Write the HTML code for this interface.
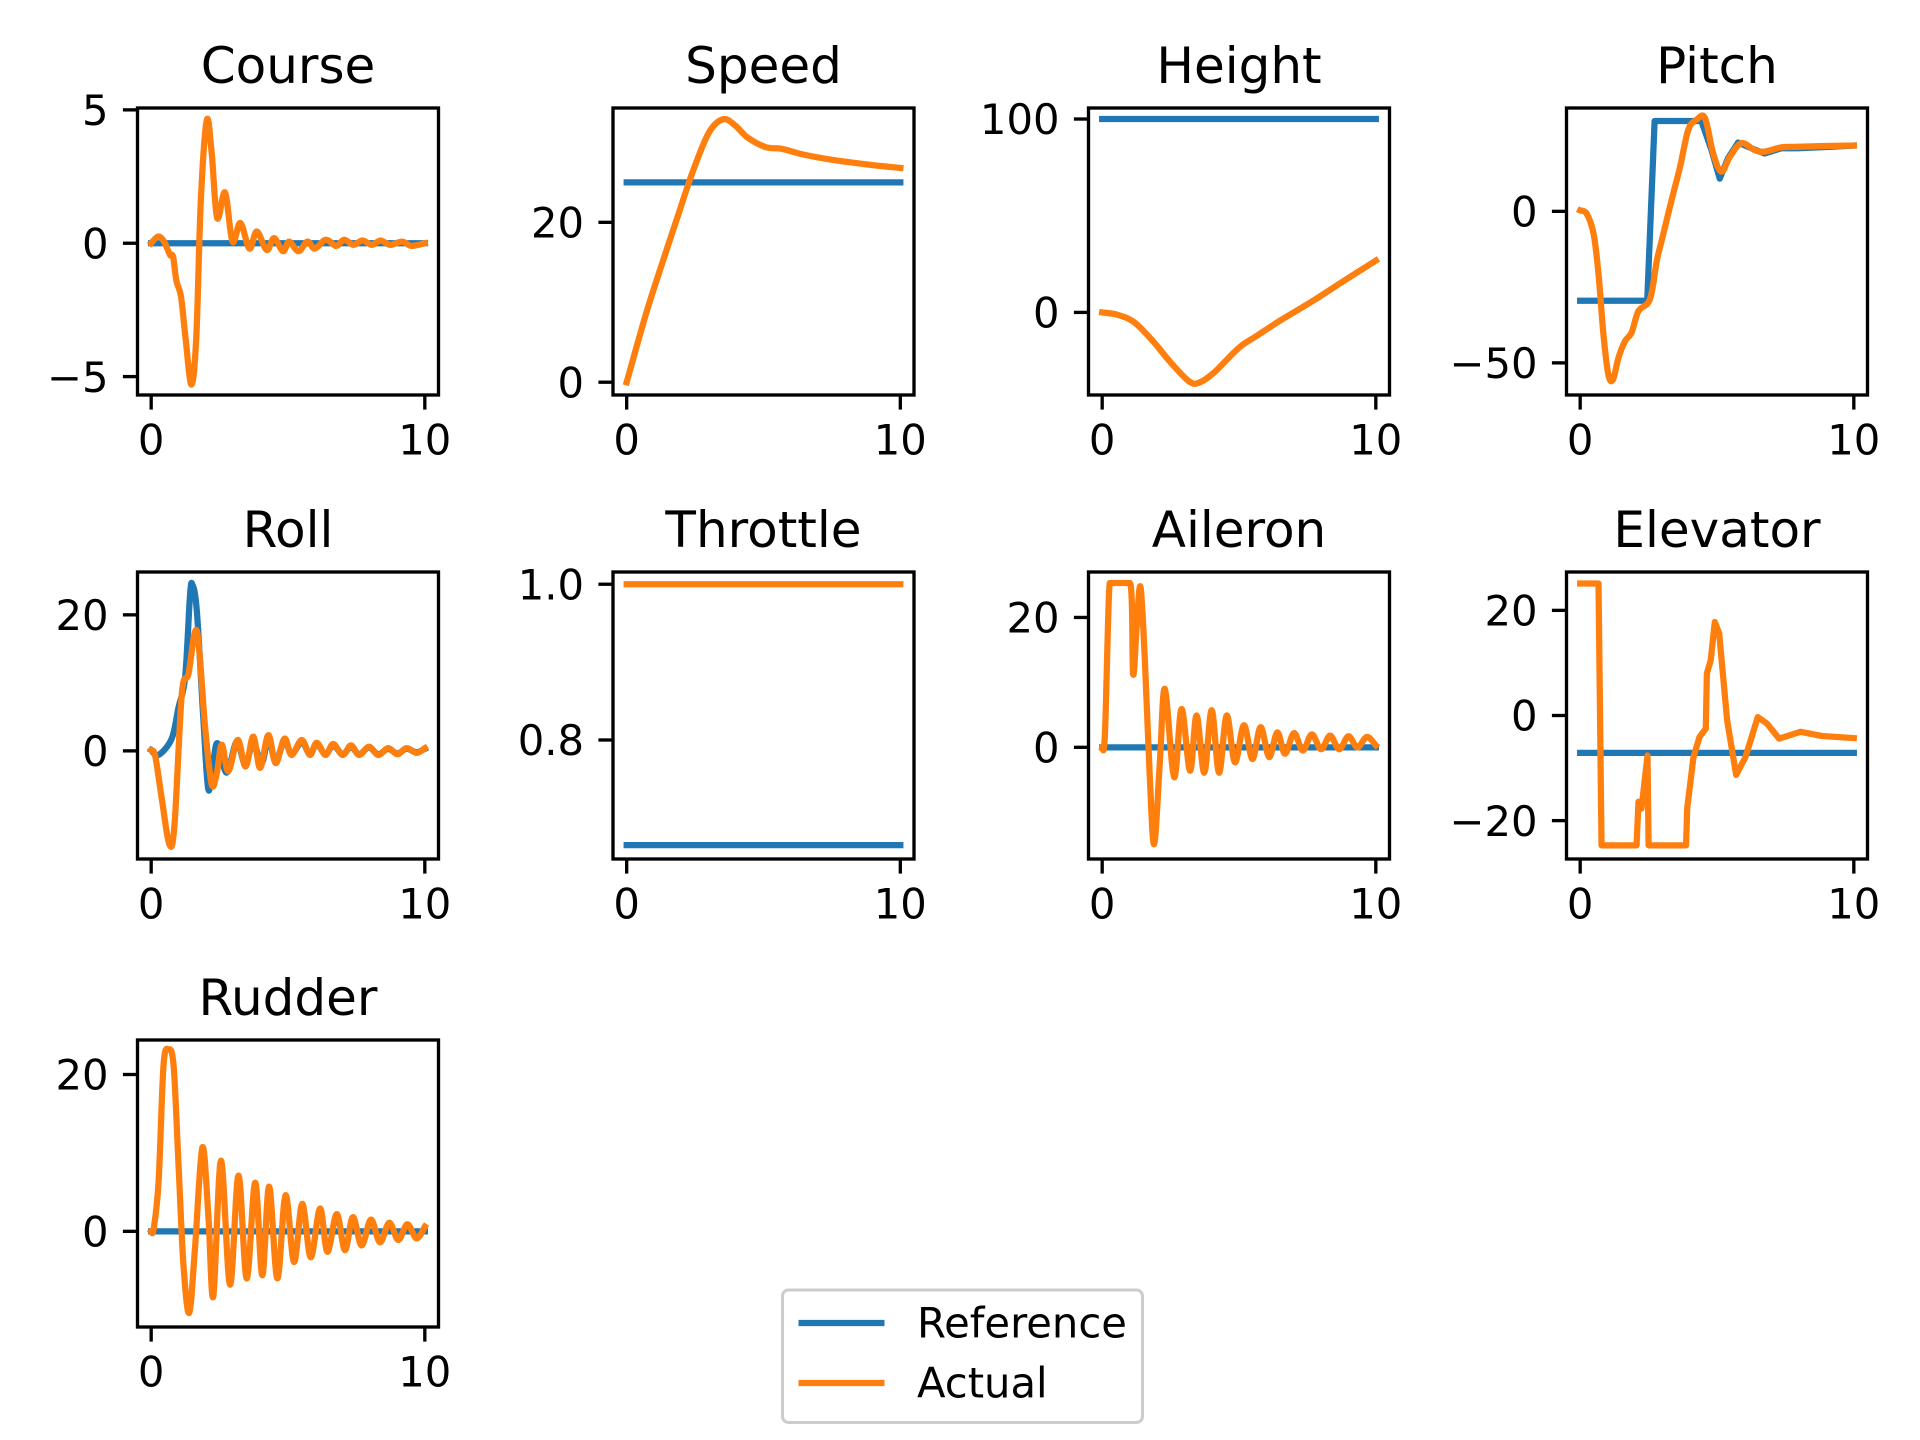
<!DOCTYPE html>
<html><head><meta charset="utf-8">
<style>
html,body{margin:0;padding:0;background:#fff;}
svg{display:block;font-family:"DejaVu Sans","Liberation Sans",sans-serif;}
</style></head>
<body>
<svg id="fig" width="1920" height="1440" viewBox="0 0 1920 1440" xmlns="http://www.w3.org/2000/svg">
<rect width="1920" height="1440" fill="#fff"/>
<g>
<rect x="782.5" y="1290" width="360" height="132.5" rx="6" fill="#fff" stroke="#cccccc" stroke-width="3"/>
<line x1="798.5" y1="1323" x2="884.5" y2="1323" stroke="#1f77b4" stroke-width="6.25"/>
<text x="917" y="1337.5" font-size="41.7" fill="#000">Reference</text>
<line x1="798.5" y1="1383" x2="884.5" y2="1383" stroke="#ff7f0e" stroke-width="6.25"/>
<text x="917" y="1397.5" font-size="41.7" fill="#000">Actual</text>
</g>
</svg>
<script>
// ---- data (time in s) ----
const courseRefT = [0, 10];
const courseRefV = [0, 0];
const courseActT = [0,0.25,0.47,0.69,0.8,0.92,1.09,1.25,1.47,1.65,1.81,2.03,2.21,2.41,2.7,2.97,3.26,3.59,3.86,4.22,4.49,4.82,5.04,5.38,5.71,5.98,6.38,6.76,7.05,7.39,7.72,8.06,8.39,8.73,9.17,9.51,10];
const courseActV = [0,0.25,0.06,-0.44,-0.5,-1.4,-2,-3.5,-5.3,-3.5,1.5,4.6,3.4,0.95,1.9,0.06,0.76,-0.2,0.44,-0.25,0.19,-0.3,0.06,-0.3,0.06,-0.2,0.13,-0.1,0.13,-0.06,0.1,-0.06,0.1,-0.06,0.06,-0.1,0];

const speedRefT = [0, 10];
const speedRefV = [25, 25];
const speedActT = [0,0.71,1.29,1.88,2.41,3.0,3.53,3.97,4.42,5.09,5.67,6.43,7.54,8.88,10];
const speedActV = [0,8.6,14.8,20.9,26.3,31.2,32.9,32.1,30.6,29.4,29.2,28.5,27.8,27.2,26.8];

const heightRefT = [0, 10];
const heightRefV = [100, 100];
const heightActT = [0,0.58,1.17,1.84,2.51,3.18,3.54,4.08,4.98,5.65,6.55,7.67,8.79,10];
const heightActV = [0,-1.3,-5.1,-14.6,-26,-35.7,-36.3,-31.2,-18.5,-12.1,-3.8,5.7,15.9,26.8];

const pitchRefT = [0,2.45,2.72,4.43,4.8,5.1,5.4,5.77,6.26,6.74,7.35,7.96,9.17,10];
const pitchRefV = [-29.5,-29.5,29.8,29.8,20.2,10.8,17.5,22.7,20.8,19.1,20.8,20.8,21.3,21.7];
const pitchActT = [0,0.24,0.49,0.67,0.85,1.03,1.2,1.4,1.64,1.88,2.13,2.55,2.8,2.98,3.34,3.65,3.95,4.25,4.56,4.86,5.16,5.47,5.89,6.38,6.74,7.35,7.96,9.17,10];
const pitchActV = [0.3,-0.8,-7.4,-20.7,-40.6,-53.9,-55.5,-48.3,-42.8,-40,-32.9,-29,-16.3,-9.6,3.7,14.7,26.9,30.2,30.8,19.1,13.1,18,22.5,20.2,19.7,21.1,21.3,21.6,21.7];

const rollRefT = [0,0.27,0.75,1.0,1.24,1.42,1.51,1.67,1.91,2.09,2.28,2.43,2.76,3.13,3.43,3.73,4.04,4.28,4.55,4.87,5.13,5.5,5.8,6.05,6.37,6.65,7.0,7.3,7.6,7.96,8.3,8.66,9.0,9.33,9.7,10];
const rollRefV = [0.1,-0.6,1.8,6.4,10.8,22.9,24.4,20.5,4.5,-5.7,-1.3,1.1,-3.2,1.4,-2,1.1,-1.8,1.8,-1.5,1.5,-0.5,1.3,-0.5,1,-0.5,0.8,-0.5,0.6,-0.5,0.5,-0.5,0.3,-0.4,0.3,-0.2,0.3];
const rollActT = [0,0.15,0.39,0.66,0.85,1.12,1.36,1.67,1.97,2.21,2.4,2.58,2.82,3.16,3.45,3.73,3.98,4.28,4.55,4.87,5.13,5.5,5.8,6.05,6.37,6.65,7.0,7.3,7.6,7.96,8.3,8.66,9.0,9.33,9.7,10];
const rollActV = [0.1,-0.8,-7.1,-13.7,-11,8.4,11.3,17.6,3.5,-4.9,-3.2,0.9,-3,1.6,-2.3,2.1,-2.5,2.3,-1.8,1.8,-0.6,1.6,-0.6,1.2,-0.6,1,-0.6,0.8,-0.6,0.6,-0.6,0.4,-0.5,0.4,-0.3,0.4];

const throttleRefT = [0, 10];
const throttleRefV = [0.665, 0.665];
const throttleActT = [0, 10];
const throttleActV = [1.0, 1.0];

const aileronRefT = [0, 10];
const aileronRefV = [0, 0];
const aileronActT = [0,0.1,0.28,0.4,1.01,1.13,1.26,1.4,1.56,1.74,1.9,2.11,2.29,2.63,2.9,3.21,3.45,3.73,4.0,4.27,4.55,4.85,5.18,5.49,5.79,6.1,6.4,6.68,7.01,7.33,7.66,8.0,8.33,8.66,9.0,9.33,9.67,10];
const aileronActV = [0,2,25.3,25.3,25.3,11.3,18.6,24.7,13.4,-4.6,-14.9,-2.1,9,-4.6,5.9,-3.6,4.9,-3.9,5.7,-3.9,4.9,-2.3,3.4,-1.8,3.1,-1.5,2.3,-1,2.2,-0.5,2,-0.3,1.8,-0.3,1.7,0,1.6,0.3];

const elevatorRefT = [0, 10];
const elevatorRefV = [-7.1, -7.1];
const elevatorActT = [0,0.67,0.78,2.06,2.13,2.24,2.46,2.5,3.87,3.91,4.14,4.36,4.59,4.63,4.77,4.92,5.08,5.37,5.7,6.04,6.49,6.82,7.27,8.05,8.84,10];
const elevatorActV = [25.1,25.1,-24.7,-24.7,-16.4,-17.7,-7.6,-24.7,-24.7,-17.7,-7.9,-4.1,-2.5,8,10.5,17.8,15.6,-0.9,-11.3,-7.9,-0.3,-1.5,-4.4,-3.1,-3.9,-4.3];

const rudderRefT = [0, 10];
const rudderRefV = [0, 0];
const rudderActT = [0,0.09,0.27,0.45,0.63,0.82,1.0,1.18,1.39,1.6,1.87,2.09,2.27,2.55,2.88,3.19,3.49,3.8,4.06,4.31,4.61,4.91,5.22,5.52,5.83,6.17,6.44,6.78,7.08,7.37,7.69,8.03,8.36,8.7,9.03,9.36,9.7,10];
const rudderActV = [0,0.3,6.3,21.1,23.2,21.1,8.4,-4.3,-10.4,-2.2,10.7,2,-8.3,9,-6.8,7.1,-6,6.2,-5.6,5.7,-6,4.6,-3.9,3.5,-3.3,2.9,-2.6,2.2,-2.4,1.8,-1.8,1.5,-1.4,1.1,-1.1,0.9,-0.9,0.6];

const titles = ["Course","Speed","Height","Pitch","Roll","Throttle","Aileron","Elevator","Rudder"];
const yTicks = [[-5,0,5],[0,20],[0,100],[-50,0],[0,20],[0.8,1.0],[0,20],[-20,0,20],[0,20]];
const yTickLabels = [["−5","0","5"],["0","20"],["0","100"],["−50","0"],["0","20"],["0.8","1.0"],["0","20"],["−20","0","20"],["0","20"]];
const yLims = [[-5.69,5.07],[-1.6,34.3],[-42.7,105.7],[-60.6,34.1],[-15.9,26.3],[0.6472,1.0157],[-17.2,27],[-27.3,27.3],[-12.2,24.4]];
const xTicks = [0, 10];
const xTickLabels = ["0","10"];

const series = [
  [courseRefT,courseRefV,courseActT,courseActV,true],
  [speedRefT,speedRefV,speedActT,speedActV,true],
  [heightRefT,heightRefV,heightActT,heightActV,true],
  [pitchRefT,pitchRefV,pitchActT,pitchActV,true],
  [rollRefT,rollRefV,rollActT,rollActV,true],
  [throttleRefT,throttleRefV,throttleActT,throttleActV,true],
  [aileronRefT,aileronRefV,aileronActT,aileronActV,true],
  [elevatorRefT,elevatorRefV,elevatorActT,elevatorActV,false],
  [rudderRefT,rudderRefV,rudderActT,rudderActV,true]
];
const refSmooth = [false,false,false,false,true,false,false,false,false];

// ---- layout ----
const NS = "http://www.w3.org/2000/svg";
const svg = document.getElementById("fig");
const colX = [137.5, 613, 1088.5, 1566.5];
const rowY = [108, 572, 1040];
const AW = 301, AH = 287;
const XMIN = -0.5, XMAX = 10.5;

function mk(tag, attrs, parent){
  const e = document.createElementNS(NS, tag);
  for (const k in attrs) e.setAttribute(k, attrs[k]);
  (parent||svg).appendChild(e);
  return e;
}
function pathD(xs, ys, smooth){
  if (!smooth || xs.length < 3){
    return xs.map((x,i)=>(i?"L":"M")+x.toFixed(2)+" "+ys[i].toFixed(2)).join(" ");
  }
  const n = xs.length, k = 1/6;
  const tx = [], ty = [];
  for (let i=0;i<n;i++){
    const a = Math.max(i-1,0), b = Math.min(i+1,n-1);
    const flat = (i>0 && ys[i]===ys[i-1]) || (i<n-1 && ys[i]===ys[i+1]);
    tx.push((xs[b]-xs[a])*k);
    ty.push(flat ? 0 : (ys[b]-ys[a])*k);
  }
  let d = "M"+xs[0].toFixed(2)+" "+ys[0].toFixed(2);
  for (let i=0;i<n-1;i++){
    const c1x = xs[i]+tx[i], c1y = ys[i]+ty[i];
    const c2x = xs[i+1]-tx[i+1], c2y = ys[i+1]-ty[i+1];
    d += " C"+c1x.toFixed(2)+" "+c1y.toFixed(2)+" "+c2x.toFixed(2)+" "+c2y.toFixed(2)+" "+xs[i+1].toFixed(2)+" "+ys[i+1].toFixed(2);
  }
  return d;
}

const defs = mk("defs", {});
titles.forEach((title, i)=>{
  const L = colX[i%4], T = rowY[Math.floor(i/4)];
  const [y0, y1] = yLims[i];
  const sx = v => L + (v - XMIN)/(XMAX - XMIN)*AW;
  const sy = v => T + AH - (v - y0)/(y1 - y0)*AH;
  const slug = title.toLowerCase();
  const g = mk("g", {});
  
  
  const cp = mk("clipPath", {id:"clip"+i}, defs);
  mk("rect", {x:L, y:T, width:AW, height:AH}, cp);

  const [rt, rv, at, av, sm] = series[i];
  const ref = mk("path", {d: pathD(rt.map(sx), rv.map(sy), refSmooth[i]), fill:"none", stroke:"#1f77b4", "stroke-width":6.25, "stroke-linejoin":"round", "stroke-linecap":"square", "clip-path":"url(#clip"+i+")"}, g);
  
  
  const act = mk("path", {d: pathD(at.map(sx), av.map(sy), sm), fill:"none", stroke:"#ff7f0e", "stroke-width":6.25, "stroke-linejoin":"round", "stroke-linecap":"square", "clip-path":"url(#clip"+i+")"}, g);
  
  

  const frame = mk("rect", {x:L, y:T, width:AW, height:AH, fill:"none", stroke:"#000", "stroke-width":3.33}, g);
  
  

  const tt = mk("text", {x:L+AW/2, y:T-25, "font-size":50, "text-anchor":"middle", fill:"#000"}, g);
  tt.textContent = title;
  
  

  xTicks.forEach((v, j)=>{
    const x = sx(v);
    const tk = mk("line", {x1:x, y1:T+AH, x2:x, y2:T+AH+14.6, stroke:"#000", "stroke-width":3.33}, g);
    
    
    const lb = mk("text", {x:x, y:T+AH+29+30.5, "font-size":41.7, "text-anchor":"middle", fill:"#000"}, g);
    lb.textContent = xTickLabels[j];
    
    
  });
  yTicks[i].forEach((v, j)=>{
    const y = sy(v);
    const tk = mk("line", {x1:L-14.6, y1:y, x2:L, y2:y, stroke:"#000", "stroke-width":3.33}, g);
    
    
    const lb = mk("text", {x:L-29, y:y+15.2, "font-size":41.7, "text-anchor":"end", fill:"#000"}, g);
    lb.textContent = yTickLabels[i][j];
    
    
  });
});
</script>
</body></html>
